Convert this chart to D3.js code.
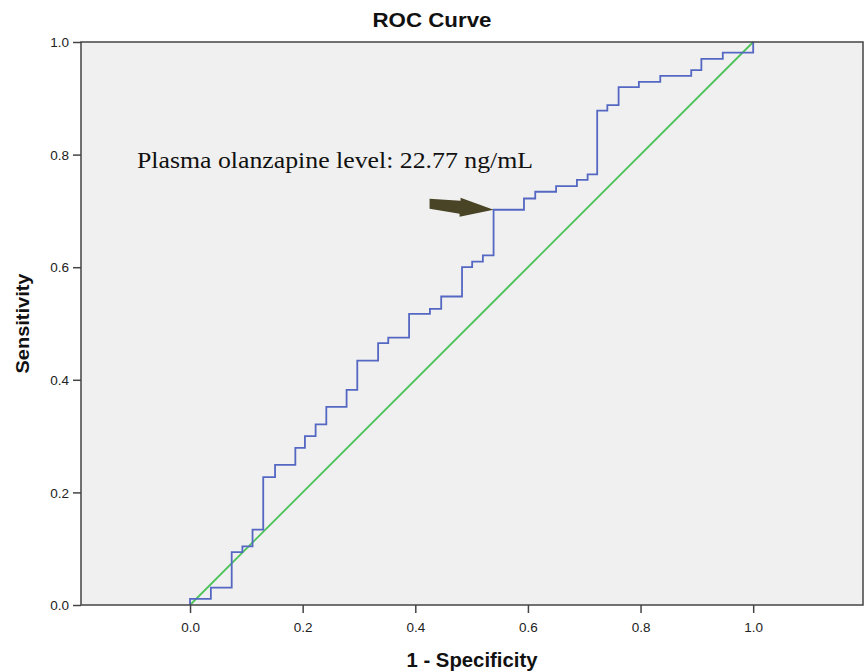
<!DOCTYPE html>
<html>
<head>
<meta charset="utf-8">
<script src="https://cdn.jsdelivr.net/npm/d3@7"></script>
<style>
  body { margin: 0; background: #fff; }
  svg { display: block; }
</style>
</head>
<body>
<svg id="chart" width="868" height="672"></svg>
<script>
// ROC staircase corners (1 - specificity, sensitivity)
const fpr = [0, 0.037, 0.074, 0.093, 0.111, 0.130, 0.151, 0.187, 0.204, 0.223, 0.242,
  0.278, 0.297, 0.334, 0.352, 0.389, 0.426, 0.446, 0.483, 0.501, 0.520, 0.539,
  0.593, 0.613, 0.650, 0.687, 0.706, 0.723, 0.741, 0.761, 0.797, 0.835, 0.890,
  0.908, 0.946, 1.0, 1.0];
const tpr = [0, 0.011, 0.031, 0.094, 0.104, 0.134, 0.227, 0.249, 0.279, 0.300, 0.321,
  0.352, 0.382, 0.434, 0.465, 0.475, 0.517, 0.526, 0.548, 0.600, 0.610, 0.621,
  0.702, 0.722, 0.734, 0.744, 0.755, 0.765, 0.878, 0.888, 0.920, 0.929, 0.940,
  0.950, 0.970, 0.981, 1.0];
const refLine = [[0, 0], [1, 1]];
const xTicks = [0, 0.2, 0.4, 0.6, 0.8, 1.0];
const yTicks = [0, 0.2, 0.4, 0.6, 0.8, 1.0];
const cutoff = { fpr: 0.539, tpr: 0.702, label: "Plasma olanzapine level: 22.77 ng/mL" };

const svg = d3.select("#chart");
const plot = { left: 81, right: 863, top: 42, bottom: 605 };
const sans = "Liberation Sans, Arial, sans-serif";

const x = d3.scaleLinear().domain([-0.1936, 1.195]).range([plot.left, plot.right]);
const y = d3.scaleLinear().domain([0, 1]).range([plot.bottom, plot.top]);

// plot background
svg.append("rect")
   .attr("x", plot.left).attr("y", plot.top)
   .attr("width", plot.right - plot.left).attr("height", plot.bottom - plot.top)
   .attr("fill", "#f0f0f0");

// reference diagonal
svg.append("path")
   .attr("d", d3.line().x(d => x(d[0])).y(d => y(d[1]))(refLine))
   .attr("fill", "none")
   .attr("stroke", "#4cc35a")
   .attr("stroke-width", 1.8);

// ROC curve
const pts = fpr.map((v, i) => [v, tpr[i]]);
svg.append("path")
   .attr("d", d3.line().x(d => x(d[0])).y(d => y(d[1])).curve(d3.curveStepBefore)(pts))
   .attr("fill", "none")
   .attr("stroke", "#5467c2")
   .attr("stroke-width", 1.8);

// frame
svg.append("rect")
   .attr("x", plot.left).attr("y", plot.top)
   .attr("width", plot.right - plot.left).attr("height", plot.bottom - plot.top)
   .attr("fill", "none")
   .attr("stroke", "#444")
   .attr("stroke-width", 1.5);

// axes
const xAxis = d3.axisBottom(x).tickValues(xTicks).tickFormat(d3.format(".1f")).tickSize(8).tickSizeOuter(0);
const yAxis = d3.axisLeft(y).tickValues(yTicks).tickFormat(d3.format(".1f")).tickSize(8).tickSizeOuter(0);

const gx = svg.append("g").attr("transform", `translate(0,${plot.bottom})`).call(xAxis);
const gy = svg.append("g").attr("transform", `translate(${plot.left},0)`).call(yAxis);
[gx, gy].forEach(g => {
  g.select(".domain").remove();
  g.selectAll("line").attr("stroke", "#444").attr("stroke-width", 1.5);
  g.selectAll("text")
   .attr("font-family", sans)
   .attr("font-size", 13.5)
   .attr("fill", "#222");
});
gx.selectAll("text").attr("dy", "1.15em");
gy.selectAll("text").attr("x", -12).attr("dy", "0.35em");

// titles
svg.append("text")
   .attr("x", 432).attr("y", 27)
   .attr("text-anchor", "middle")
   .attr("font-family", sans)
   .attr("font-weight", "bold")
   .attr("font-size", 19.5)
   .attr("textLength", 119)
   .attr("lengthAdjust", "spacingAndGlyphs")
   .attr("fill", "#111")
   .text("ROC Curve");

svg.append("text")
   .attr("x", (plot.left + plot.right) / 2).attr("y", 667)
   .attr("text-anchor", "middle")
   .attr("font-family", sans)
   .attr("font-weight", "bold")
   .attr("font-size", 19.5)
   .attr("textLength", 131)
   .attr("lengthAdjust", "spacingAndGlyphs")
   .attr("fill", "#111")
   .text("1 - Specificity");

svg.append("text")
   .attr("transform", `translate(28.5,${(plot.top + plot.bottom) / 2}) rotate(-90)`)
   .attr("text-anchor", "middle")
   .attr("font-family", sans)
   .attr("font-weight", "bold")
   .attr("font-size", 18.5)
   .attr("textLength", 100)
   .attr("lengthAdjust", "spacingAndGlyphs")
   .attr("fill", "#111")
   .text("Sensitivity");

// cutoff annotation
svg.append("text")
   .attr("x", 137).attr("y", 168)
   .attr("font-family", "Liberation Serif, Times New Roman, serif")
   .attr("font-size", 22.5)
   .attr("textLength", 396)
   .attr("lengthAdjust", "spacingAndGlyphs")
   .attr("fill", "#111")
   .text(cutoff.label);

const tx = x(cutoff.fpr), ty = y(cutoff.tpr);
const arrow = [[0, 0], [-33, -12], [-33, -9], [-64, -11], [-64, -1], [-34, 4], [-34, 7]];
svg.append("polygon")
   .attr("points", arrow.map(p => [tx + p[0], ty + p[1]].join(",")).join(" "))
   .attr("fill", "#4a4427");
</script>
</body>
</html>
